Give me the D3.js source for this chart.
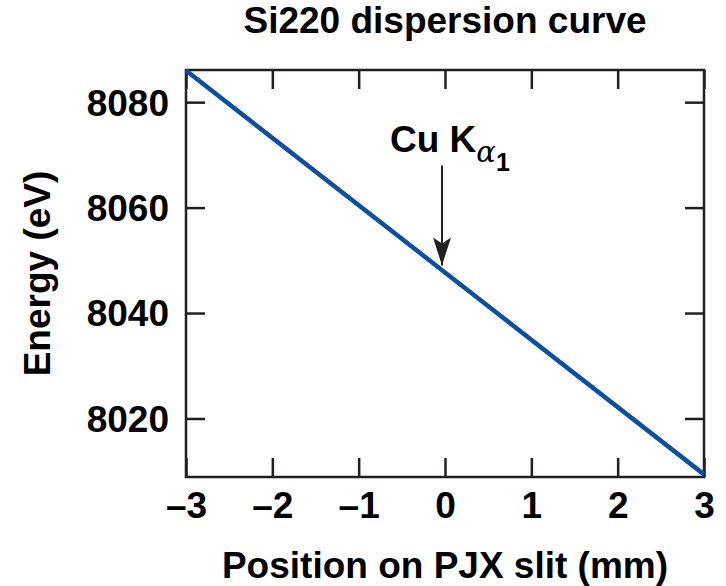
<!DOCTYPE html>
<html>
<head>
<meta charset="utf-8">
<script src="https://cdn.jsdelivr.net/npm/d3@7"></script>
<style>
  body { margin: 0; background: #fff; }
  text { font-family: "Liberation Sans", Arial, Helvetica, sans-serif; font-weight: bold; fill: #000; }
</style>
</head>
<body>
<div id="d3-container"></div>
<script>
// CONST and GLOBALS
const width = 726,
  height = 586,
  margin = { top: 70, bottom: 109, left: 186, right: 22 },
  fontSize = '37px';

// data
const positions = [-3, 0, 3];            // mm on PJX slit
const energies = [8086, 8047.7, 8009.4]; // eV
const xTicks = [-3, -2, -1, 0, 1, 2, 3];
const yTicks = [8020, 8040, 8060, 8080];
const markerPos = 0;       // Cu K alpha1 arrow
const markerEnergy = 8047.7;

const lineColor = '#0b4f9e';
const ink = '#231f20';
const tickLen = 19;

let svg = d3.select('#d3-container')
  .append('svg')
  .attr('width', width)
  .attr('height', height);

// SCALES
const xScale = d3.scaleLinear()
  .domain([-3, 3])
  .range([margin.left, width - margin.right]);

const yScale = d3.scaleLinear()
  .domain([8008.9, 8086.1])
  .range([height - margin.bottom, margin.top]);

const fmtX = d => (d < 0 ? '\u2013' + Math.abs(d) : d);

// AXES (ticks point inward, all four sides)
svg.append('g')
  .attr('class', 'axis x-axis')
  .attr('transform', `translate(0,${height - margin.bottom})`)
  .call(d3.axisBottom(xScale).tickValues(xTicks).tickSizeInner(-tickLen).tickSizeOuter(0).tickPadding(0).tickFormat(fmtX))
  .call(g => g.select('.domain').remove())
  .call(g => g.selectAll('.tick text').attr('y', 41).attr('dy', 0).style('font-size', fontSize));

svg.append('g')
  .attr('transform', `translate(0,${margin.top})`)
  .call(d3.axisTop(xScale).tickValues(xTicks).tickSizeInner(-tickLen).tickSizeOuter(0).tickFormat(''))
  .call(g => g.select('.domain').remove());

svg.append('g')
  .attr('class', 'axis y-axis')
  .attr('transform', `translate(${margin.left},0)`)
  .call(d3.axisLeft(yScale).tickValues(yTicks).tickSizeInner(-tickLen).tickSizeOuter(0).tickPadding(17).tickFormat(d3.format('d')))
  .call(g => g.select('.domain').remove())
  .call(g => g.selectAll('.tick text').attr('dy', '0.35em').style('font-size', fontSize));

svg.append('g')
  .attr('transform', `translate(${width - margin.right},0)`)
  .call(d3.axisRight(yScale).tickValues(yTicks).tickSizeInner(-tickLen).tickSizeOuter(0).tickFormat(''))
  .call(g => g.select('.domain').remove());

svg.selectAll('.tick line').attr('stroke', ink).attr('stroke-width', 2.5);
svg.selectAll('.tick text').attr('fill', '#000');

// frame
svg.append('rect')
  .attr('x', xScale(-3))
  .attr('y', yScale(8086.1))
  .attr('width', xScale(3) - xScale(-3))
  .attr('height', yScale(8008.9) - yScale(8086.1))
  .attr('fill', 'none')
  .attr('stroke', ink)
  .attr('stroke-width', 2.5);

// dispersion line
const line = d3.line()
  .x((d, i) => xScale(positions[i]))
  .y(d => yScale(d));

svg.append('path')
  .datum(energies)
  .attr('fill', 'none')
  .attr('stroke', lineColor)
  .attr('stroke-width', 4.5)
  .attr('d', line);

// arrow for Cu K alpha1
svg.append('defs').append('marker')
  .attr('id', 'head')
  .attr('viewBox', '0 0 18 28')
  .attr('refX', 9).attr('refY', 28)
  .attr('markerWidth', 18).attr('markerHeight', 28)
  .attr('markerUnits', 'userSpaceOnUse')
  .attr('orient', 0)
  .append('path')
  .attr('d', 'M0,0 L9,6 L18,0 L9,28 Z')
  .attr('fill', ink);

const ax = xScale(markerPos) - 3;
const tipY = yScale(markerEnergy) - 7;
svg.append('line')
  .attr('x1', ax).attr('x2', ax)
  .attr('y1', tipY - 100).attr('y2', tipY)
  .attr('stroke', ink)
  .attr('stroke-width', 2)
  .attr('marker-end', 'url(#head)');

const lbl = svg.append('text')
  .attr('x', 390)
  .attr('y', tipY - 113)
  .style('font-size', fontSize);
lbl.append('tspan').text('Cu K');
lbl.append('tspan')
  .attr('dy', 10)
  .style('font-size', '29px')
  .style('font-style', 'italic')
  .style('font-weight', 'normal')
  .style('font-family', '"DejaVu Serif", serif')
  .text('\u03b1');
lbl.append('tspan')
  .attr('dy', 9)
  .style('font-size', '25px')
  .text('1');

// titles
svg.append('text')
  .attr('x', (margin.left + width - margin.right) / 2)
  .attr('y', 33)
  .attr('text-anchor', 'middle')
  .style('font-size', fontSize)
  .text('Si220 dispersion curve');

svg.append('text')
  .attr('x', (margin.left + width - margin.right) / 2)
  .attr('y', 578)
  .attr('text-anchor', 'middle')
  .style('font-size', fontSize)
  .text('Position on PJX slit (mm)');

svg.append('text')
  .attr('transform', `translate(50,${(yScale(8008.9) + yScale(8086.1)) / 2}) rotate(-90)`)
  .attr('text-anchor', 'middle')
  .style('font-size', fontSize)
  .text('Energy (eV)');
</script>
</body>
</html>
